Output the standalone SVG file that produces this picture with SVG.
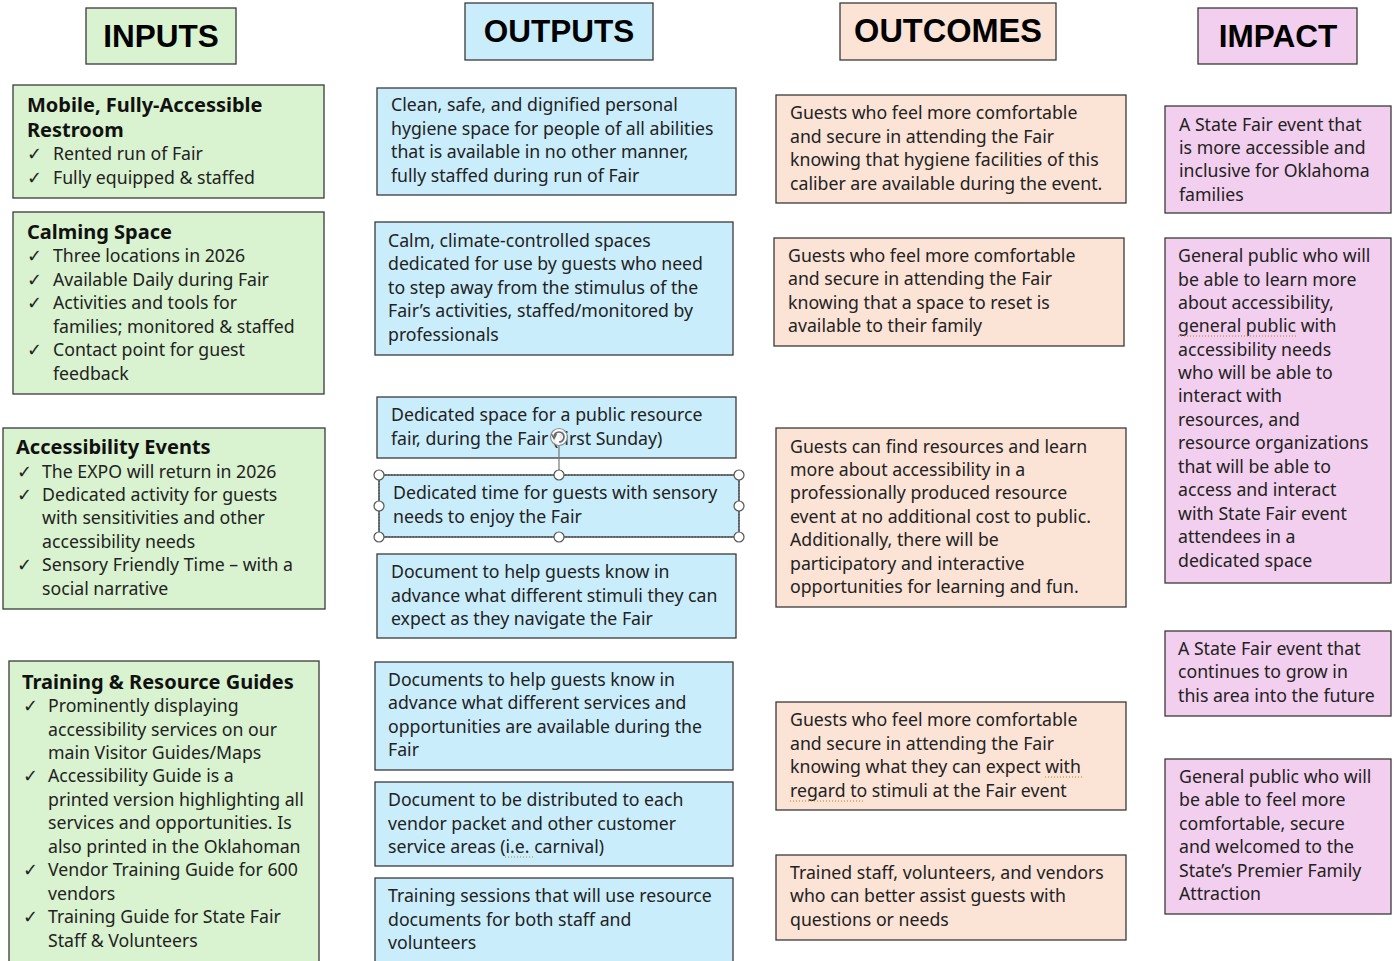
<svg xmlns="http://www.w3.org/2000/svg" width="1397" height="961" viewBox="0 0 1397 961">
<style>
.g{fill:#d9f2d0;stroke:#3a3a3a;stroke-width:1.3}
.b{fill:#caedfb;stroke:#3a3a3a;stroke-width:1.3}
.p{fill:#fbe3d6;stroke:#3a3a3a;stroke-width:1.3}
.m{fill:#f2cfee;stroke:#3a3a3a;stroke-width:1.3}
.h{font-family:"Liberation Sans",Arial,sans-serif;font-weight:bold;font-size:31.5px;fill:#000;text-anchor:middle}
.t{font-family:"Noto Sans","Open Sans",sans-serif;font-size:17.7px;fill:#222}
.tb{font-family:"Noto Sans","Open Sans",sans-serif;font-size:20px;font-weight:bold;fill:#111}
.ck{font-family:"DejaVu Sans",sans-serif;font-size:18px;fill:#222}
.sq{stroke:#b8860b;stroke-width:1.2;stroke-dasharray:1 2;fill:none}
.hd{fill:#fff;stroke:#555;stroke-width:1.2}
</style>

<g id="hdr-inputs"><rect class="g" x="86" y="8" width="150" height="56"/><text class="h" x="161" y="47">INPUTS</text></g>
<g id="hdr-outputs"><rect class="b" x="465" y="3" width="188" height="57"/><text class="h" x="559" y="42">OUTPUTS</text></g>
<g id="hdr-outcomes"><rect class="p" x="840" y="3" width="216" height="57"/><text class="h" x="948" y="42" style="font-size:32.5px">OUTCOMES</text></g>
<g id="hdr-impact"><rect class="m" x="1198" y="8" width="159" height="56"/><text class="h" x="1278" y="47">IMPACT</text></g>

<g id="in-restroom"><rect class="g" x="13" y="85" width="311" height="113"/>
<text class="tb" x="27" y="112">Mobile, Fully-Accessible</text>
<text class="tb" x="27" y="137">Restroom</text>
<text class="ck" x="27" y="160">✓</text><text class="t" x="53" y="160">Rented run of Fair</text>
<text class="ck" x="27" y="184">✓</text><text class="t" x="53" y="184">Fully equipped &amp; staffed</text>
</g>

<g id="in-calming"><rect class="g" x="13" y="212" width="311" height="182"/>
<text class="tb" x="27" y="239">Calming Space</text>
<text class="ck" x="27" y="262">✓</text><text class="t" x="53" y="262">Three locations in 2026</text>
<text class="ck" x="27" y="286">✓</text><text class="t" x="53" y="286">Available Daily during Fair</text>
<text class="ck" x="27" y="309">✓</text><text class="t" x="53" y="309">Activities and tools for</text>
<text class="t" x="53" y="333">families; monitored &amp; staffed</text>
<text class="ck" x="27" y="356">✓</text><text class="t" x="53" y="356">Contact point for guest</text>
<text class="t" x="53" y="380">feedback</text>
</g>

<g id="in-events"><rect class="g" x="3" y="428" width="322" height="181"/>
<text class="tb" x="16" y="454">Accessibility Events</text>
<text class="ck" x="17" y="478">✓</text><text class="t" x="42" y="478">The EXPO will return in 2026</text>
<text class="ck" x="17" y="501">✓</text><text class="t" x="42" y="501">Dedicated activity for guests</text>
<text class="t" x="42" y="524">with sensitivities and other</text>
<text class="t" x="42" y="548">accessibility needs</text>
<text class="ck" x="17" y="571">✓</text><text class="t" x="42" y="571">Sensory Friendly Time – with a</text>
<text class="t" x="42" y="595">social narrative</text>
</g>

<g id="in-training"><rect class="g" x="9" y="661" width="310" height="310"/>
<text class="tb" x="22" y="689">Training &amp; Resource Guides</text>
<text class="ck" x="23" y="712">✓</text><text class="t" x="48" y="712">Prominently displaying</text>
<text class="t" x="48" y="736">accessibility services on our</text>
<text class="t" x="48" y="759">main Visitor Guides/Maps</text>
<text class="ck" x="23" y="782">✓</text><text class="t" x="48" y="782">Accessibility Guide is a</text>
<text class="t" x="48" y="806">printed version highlighting all</text>
<text class="t" x="48" y="829">services and opportunities. Is</text>
<text class="t" x="48" y="853">also printed in the Oklahoman</text>
<text class="ck" x="23" y="876">✓</text><text class="t" x="48" y="876">Vendor Training Guide for 600</text>
<text class="t" x="48" y="900">vendors</text>
<text class="ck" x="23" y="923">✓</text><text class="t" x="48" y="923">Training Guide for State Fair</text>
<text class="t" x="48" y="947">Staff &amp; Volunteers</text>
</g>

<g id="out-hygiene"><rect class="b" x="377" y="88" width="359" height="107"/>
<text class="t" x="391" y="111">Clean, safe, and dignified personal</text>
<text class="t" x="391" y="135">hygiene space for people of all abilities</text>
<text class="t" x="391" y="158">that is available in no other manner,</text>
<text class="t" x="391" y="182">fully staffed during run of Fair</text>
</g>

<g id="out-calm"><rect class="b" x="375" y="222" width="358" height="133"/>
<text class="t" x="388" y="247">Calm, climate-controlled spaces</text>
<text class="t" x="388" y="270">dedicated for use by guests who need</text>
<text class="t" x="388" y="294">to step away from the stimulus of the</text>
<text class="t" x="388" y="317">Fair’s activities, staffed/monitored by</text>
<text class="t" x="388" y="341">professionals</text>
</g>

<g id="out-resource-fair"><rect class="b" x="377" y="397" width="359" height="61"/>
<text class="t" x="391" y="421">Dedicated space for a public resource</text>
<text class="t" x="391" y="445">fair, during the Fair (first Sunday)</text>
</g>

<g id="out-sensory-time"><rect class="b" x="379" y="475" width="360" height="62"/>
<text class="t" x="393" y="499">Dedicated time for guests with sensory</text>
<text class="t" x="393" y="523">needs to enjoy the Fair</text>
<rect x="379" y="475" width="360" height="62" fill="none" stroke="#444" stroke-width="1" stroke-dasharray="1.5 1.5"/>
<line x1="559" y1="475" x2="559" y2="445" stroke="#777" stroke-width="1.2"/>
<circle cx="559" cy="437" r="8.5" fill="#fff" stroke="#888" stroke-width="1.2" opacity="0.9"/>
<path d="M554 437 A5 5 0 1 1 559 442" fill="none" stroke="#666" stroke-width="1.7"/>
<path d="M551.5 434 L554 438.5 L556.5 434" fill="none" stroke="#666" stroke-width="1.4"/>
<circle class="hd" cx="379" cy="475" r="5"/><circle class="hd" cx="559" cy="475" r="5"/><circle class="hd" cx="739" cy="475" r="5"/>
<circle class="hd" cx="379" cy="506" r="5"/><circle class="hd" cx="739" cy="506" r="5"/>
<circle class="hd" cx="379" cy="537" r="5"/><circle class="hd" cx="559" cy="537" r="5"/><circle class="hd" cx="739" cy="537" r="5"/>
</g>

<g id="out-stimuli-doc"><rect class="b" x="377" y="554" width="359" height="84"/>
<text class="t" x="391" y="578">Document to help guests know in</text>
<text class="t" x="391" y="602">advance what different stimuli they can</text>
<text class="t" x="391" y="625">expect as they navigate the Fair</text>
</g>

<g id="out-services-doc"><rect class="b" x="375" y="662" width="358" height="108"/>
<text class="t" x="388" y="686">Documents to help guests know in</text>
<text class="t" x="388" y="709">advance what different services and</text>
<text class="t" x="388" y="733">opportunities are available during the</text>
<text class="t" x="388" y="756">Fair</text>
</g>

<g id="out-vendor-doc"><rect class="b" x="375" y="782" width="358" height="84"/>
<text class="t" x="388" y="806">Document to be distributed to each</text>
<text class="t" x="388" y="830">vendor packet and other customer</text>
<text class="t" x="388" y="853">service areas (i.e. carnival)</text>
<line class="sq" x1="505" y1="857" x2="535" y2="857"/>
</g>

<g id="out-training"><rect class="b" x="375" y="878" width="358" height="93"/>
<text class="t" x="388" y="902">Training sessions that will use resource</text>
<text class="t" x="388" y="926">documents for both staff and</text>
<text class="t" x="388" y="949">volunteers</text>
</g>

<g id="oc-hygiene"><rect class="p" x="776" y="95" width="350" height="108"/>
<text class="t" x="790" y="119">Guests who feel more comfortable</text>
<text class="t" x="790" y="143">and secure in attending the Fair</text>
<text class="t" x="790" y="166">knowing that hygiene facilities of this</text>
<text class="t" x="790" y="190">caliber are available during the event.</text>
</g>

<g id="oc-reset"><rect class="p" x="774" y="238" width="350" height="108"/>
<text class="t" x="788" y="262">Guests who feel more comfortable</text>
<text class="t" x="788" y="285">and secure in attending the Fair</text>
<text class="t" x="788" y="309">knowing that a space to reset is</text>
<text class="t" x="788" y="332">available to their family</text>
</g>

<g id="oc-resources"><rect class="p" x="776" y="428" width="350" height="179"/>
<text class="t" x="790" y="453">Guests can find resources and learn</text>
<text class="t" x="790" y="476">more about accessibility in a</text>
<text class="t" x="790" y="499">professionally produced resource</text>
<text class="t" x="790" y="523">event at no additional cost to public.</text>
<text class="t" x="790" y="546">Additionally, there will be</text>
<text class="t" x="790" y="570">participatory and interactive</text>
<text class="t" x="790" y="593">opportunities for learning and fun.</text>
</g>

<g id="oc-stimuli"><rect class="p" x="776" y="702" width="350" height="108"/>
<text class="t" x="790" y="726">Guests who feel more comfortable</text>
<text class="t" x="790" y="750">and secure in attending the Fair</text>
<text class="t" x="790" y="773">knowing what they can expect with</text>
<text class="t" x="790" y="797">regard to stimuli at the Fair event</text>
<line class="sq" x1="1045" y1="777" x2="1084" y2="777"/>
<line class="sq" x1="790" y1="801" x2="864" y2="801"/>
</g>

<g id="oc-trained"><rect class="p" x="776" y="855" width="350" height="85"/>
<text class="t" x="790" y="879">Trained staff, volunteers, and vendors</text>
<text class="t" x="790" y="902">who can better assist guests with</text>
<text class="t" x="790" y="926">questions or needs</text>
</g>

<g id="im-inclusive"><rect class="m" x="1165" y="106" width="226" height="107"/>
<text class="t" x="1179" y="131">A State Fair event that</text>
<text class="t" x="1179" y="154">is more accessible and</text>
<text class="t" x="1179" y="177">inclusive for Oklahoma</text>
<text class="t" x="1179" y="201">families</text>
</g>

<g id="im-public"><rect class="m" x="1165" y="238" width="226" height="345"/>
<text class="t" x="1178" y="262">General public who will</text>
<text class="t" x="1178" y="286">be able to learn more</text>
<text class="t" x="1178" y="309">about accessibility,</text>
<text class="t" x="1178" y="332">general public with</text>
<line class="sq" x1="1178" y1="336" x2="1297" y2="336"/>
<text class="t" x="1178" y="356">accessibility needs</text>
<text class="t" x="1178" y="379">who will be able to</text>
<text class="t" x="1178" y="402">interact with</text>
<text class="t" x="1178" y="426">resources, and</text>
<text class="t" x="1178" y="449">resource organizations</text>
<text class="t" x="1178" y="473">that will be able to</text>
<text class="t" x="1178" y="496">access and interact</text>
<text class="t" x="1178" y="520">with State Fair event</text>
<text class="t" x="1178" y="543">attendees in a</text>
<text class="t" x="1178" y="567">dedicated space</text>
</g>

<g id="im-future"><rect class="m" x="1165" y="631" width="226" height="85"/>
<text class="t" x="1178" y="655">A State Fair event that</text>
<text class="t" x="1178" y="678">continues to grow in</text>
<text class="t" x="1178" y="702">this area into the future</text>
</g>

<g id="im-welcomed"><rect class="m" x="1165" y="759" width="226" height="155"/>
<text class="t" x="1179" y="783">General public who will</text>
<text class="t" x="1179" y="806">be able to feel more</text>
<text class="t" x="1179" y="830">comfortable, secure</text>
<text class="t" x="1179" y="853">and welcomed to the</text>
<text class="t" x="1179" y="877">State’s Premier Family</text>
<text class="t" x="1179" y="900">Attraction</text>
</g>
</svg>
